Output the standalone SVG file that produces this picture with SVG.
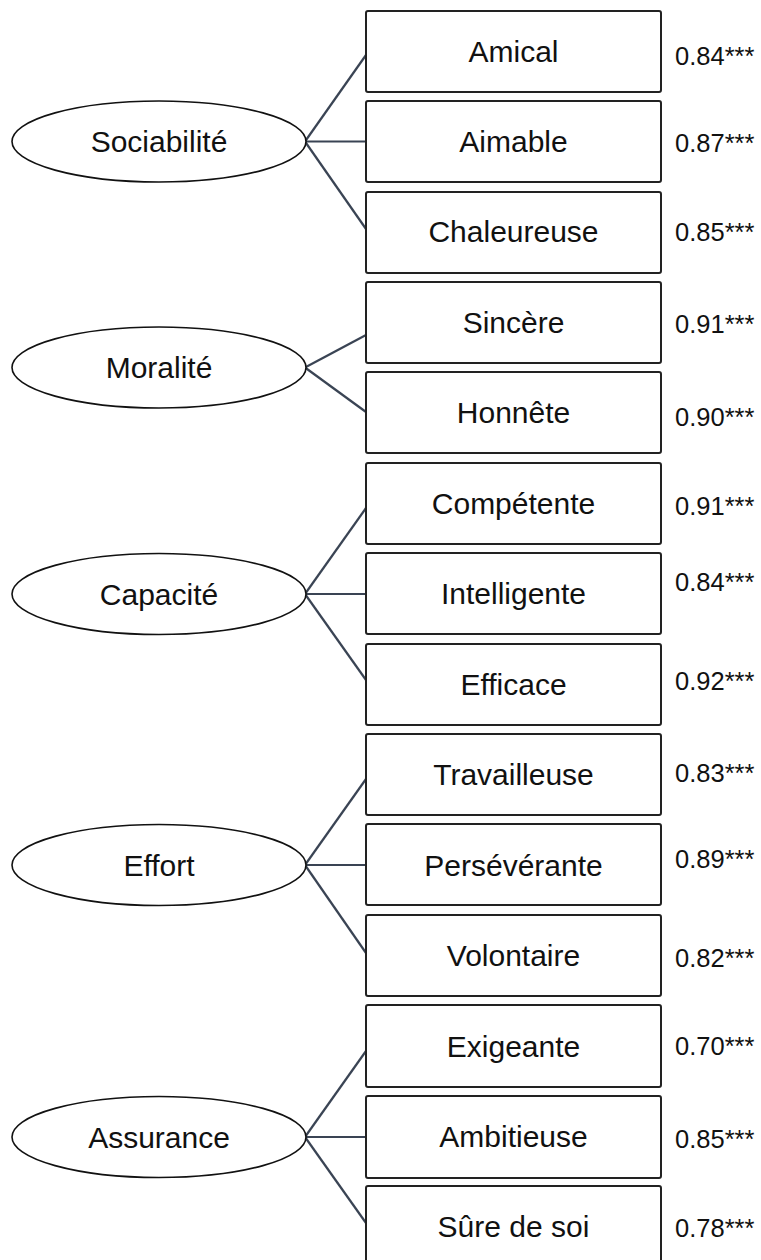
<svg xmlns="http://www.w3.org/2000/svg" width="761" height="1260" viewBox="0 0 761 1260">
<style>
.box{fill:#fff;stroke:#222;stroke-width:2}
.ell{fill:#fff;stroke:#111;stroke-width:1.6}
.lbl{font-family:"Liberation Sans",Arial,sans-serif;font-size:30px;fill:#111;text-anchor:middle}
.num{font-family:"Liberation Sans",Arial,sans-serif;font-size:25.5px;fill:#111}
.con line{stroke:#3a4454;stroke-width:2.2}
</style>
<rect width="761" height="1260" fill="#fff"/>
<g id="connectors" class="con">
<line x1="305" y1="141.5" x2="366" y2="55"/>
<line x1="305" y1="141.5" x2="366" y2="141.5"/>
<line x1="305" y1="141.5" x2="366" y2="229"/>
<line x1="305" y1="367.5" x2="366" y2="335"/>
<line x1="305" y1="367.5" x2="366" y2="412"/>
<line x1="305" y1="594" x2="366" y2="508"/>
<line x1="305" y1="594" x2="366" y2="594"/>
<line x1="305" y1="594" x2="366" y2="680"/>
<line x1="305" y1="865" x2="366" y2="779"/>
<line x1="305" y1="865" x2="366" y2="865"/>
<line x1="305" y1="865" x2="366" y2="953"/>
<line x1="305" y1="1137" x2="366" y2="1051"/>
<line x1="305" y1="1137" x2="366" y2="1137"/>
<line x1="305" y1="1137" x2="366" y2="1223"/>
</g>
<g id="sociabilite"><ellipse class="ell" cx="159" cy="141.5" rx="147" ry="40.5"/><text class="lbl" x="159" y="152">Sociabilité</text></g>
<g id="moralite"><ellipse class="ell" cx="159" cy="367.5" rx="147" ry="40.5"/><text class="lbl" x="159" y="378">Moralité</text></g>
<g id="capacite"><ellipse class="ell" cx="159" cy="594" rx="147" ry="40.5"/><text class="lbl" x="159" y="604.5">Capacité</text></g>
<g id="effort"><ellipse class="ell" cx="159" cy="865" rx="147" ry="40.5"/><text class="lbl" x="159" y="875.5">Effort</text></g>
<g id="assurance"><ellipse class="ell" cx="159" cy="1137" rx="147" ry="40.5"/><text class="lbl" x="159" y="1147.5">Assurance</text></g>
<g id="amical"><rect class="box" x="366" y="11" width="295" height="81" rx="2"/><text class="lbl" x="513.5" y="62">Amical</text><text class="num" x="675" y="65">0.84***</text></g>
<g id="aimable"><rect class="box" x="366" y="101" width="295" height="81" rx="2"/><text class="lbl" x="513.5" y="152">Aimable</text><text class="num" x="675" y="152">0.87***</text></g>
<g id="chaleureuse"><rect class="box" x="366" y="192" width="295" height="81" rx="2"/><text class="lbl" x="513.5" y="242">Chaleureuse</text><text class="num" x="675" y="241">0.85***</text></g>
<g id="sincere"><rect class="box" x="366" y="282" width="295" height="81" rx="2"/><text class="lbl" x="513.5" y="333">Sincère</text><text class="num" x="675" y="333">0.91***</text></g>
<g id="honnete"><rect class="box" x="366" y="372" width="295" height="81" rx="2"/><text class="lbl" x="513.5" y="423">Honnête</text><text class="num" x="675" y="426">0.90***</text></g>
<g id="competente"><rect class="box" x="366" y="463" width="295" height="81" rx="2"/><text class="lbl" x="513.5" y="514">Compétente</text><text class="num" x="675" y="515">0.91***</text></g>
<g id="intelligente"><rect class="box" x="366" y="553" width="295" height="81" rx="2"/><text class="lbl" x="513.5" y="604">Intelligente</text><text class="num" x="675" y="591">0.84***</text></g>
<g id="efficace"><rect class="box" x="366" y="644" width="295" height="81" rx="2"/><text class="lbl" x="513.5" y="695">Efficace</text><text class="num" x="675" y="690">0.92***</text></g>
<g id="travailleuse"><rect class="box" x="366" y="734" width="295" height="81" rx="2"/><text class="lbl" x="513.5" y="785">Travailleuse</text><text class="num" x="675" y="782">0.83***</text></g>
<g id="perseverante"><rect class="box" x="366" y="824" width="295" height="81" rx="2"/><text class="lbl" x="513.5" y="875.5">Persévérante</text><text class="num" x="675" y="868">0.89***</text></g>
<g id="volontaire"><rect class="box" x="366" y="915" width="295" height="81" rx="2"/><text class="lbl" x="513.5" y="966">Volontaire</text><text class="num" x="675" y="967">0.82***</text></g>
<g id="exigeante"><rect class="box" x="366" y="1005" width="295" height="82" rx="2"/><text class="lbl" x="513.5" y="1057">Exigeante</text><text class="num" x="675" y="1055">0.70***</text></g>
<g id="ambitieuse"><rect class="box" x="366" y="1096" width="295" height="82" rx="2"/><text class="lbl" x="513.5" y="1147">Ambitieuse</text><text class="num" x="675" y="1148">0.85***</text></g>
<g id="sure-de-soi"><rect class="box" x="366" y="1186" width="295" height="82" rx="2"/><text class="lbl" x="513.5" y="1237">Sûre de soi</text><text class="num" x="675" y="1237">0.78***</text></g>
</svg>
